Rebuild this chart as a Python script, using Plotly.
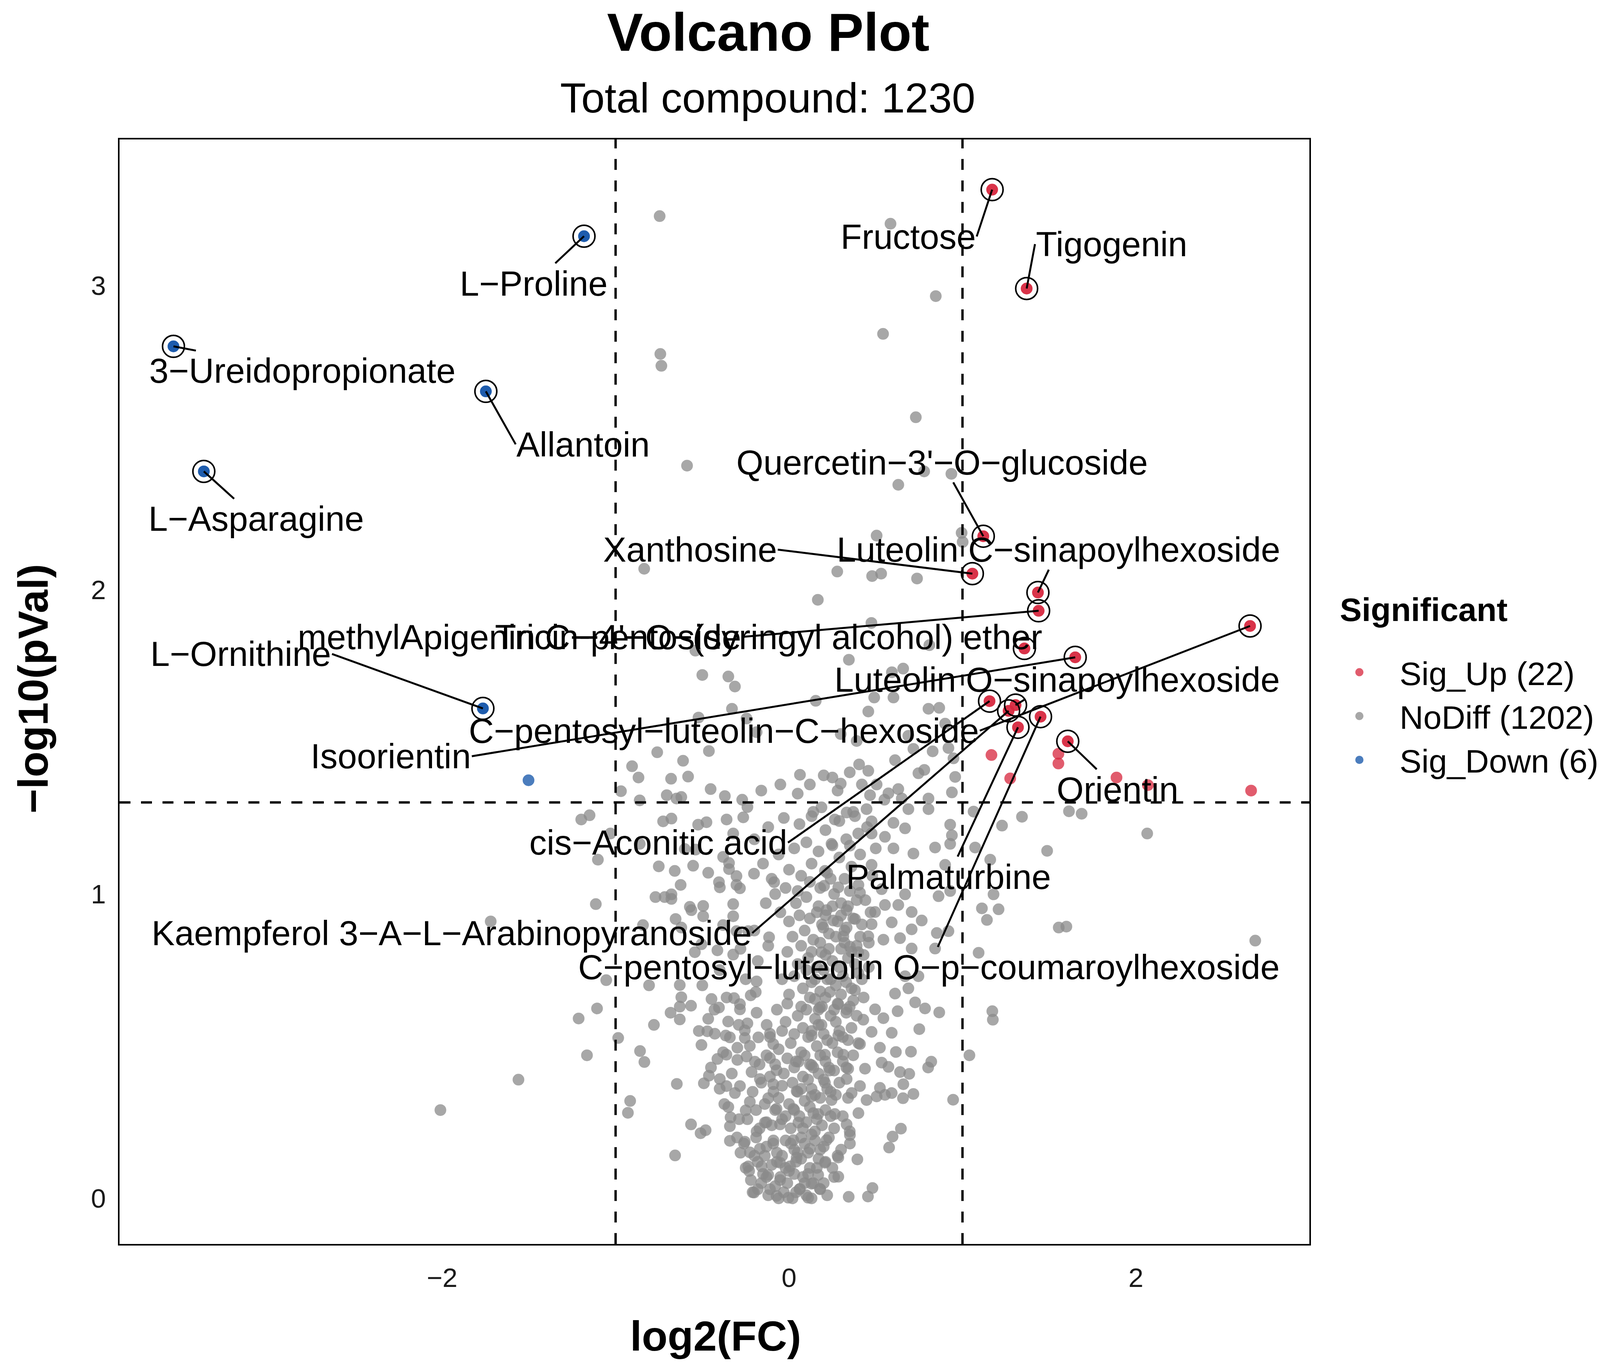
import math
import plotly.graph_objects as go

FONT = "Liberation Sans, Arial, sans-serif"

# ---------------- data (log2 fold change, -log10 p value) ----------------
up_fc = [1.171, 1.370, 1.120, 1.057, 1.435, 1.439, 1.357, 1.650, 2.658, 1.156, 1.306,
         1.266, 1.320, 1.450, 1.607, 1.167, 1.275, 1.553, 1.553, 1.888, 2.069, 2.664]
up_p = [3.315, 2.990, 2.176, 2.053, 1.991, 1.931, 1.807, 1.778, 1.881, 1.634, 1.621,
        1.602, 1.548, 1.583, 1.502, 1.457, 1.380, 1.461, 1.429, 1.383, 1.358, 1.340]
up_label = ["Fructose", "Tigogenin", "Quercetin−3'−O−glucoside", "Xanthosine",
            "Luteolin C−sinapoylhexoside", "methylApigenin C−pentoside",
            "Tricin−4'−O−(syringyl alcohol) ether", "Isoorientin",
            "C−pentosyl−luteolin−C−hexoside", "cis−Aconitic acid",
            "Luteolin O−sinapoylhexoside", "Kaempferol 3−A−L−Arabinopyranoside",
            "Palmaturbine", "C−pentosyl−luteolin O−p−coumaroylhexoside", "Orientin",
            None, None, None, None, None, None, None]

down_fc = [-1.182, -3.549, -1.748, -3.374, -1.765, -1.502]
down_p = [3.162, 2.800, 2.652, 2.389, 1.610, 1.374]
down_label = ["L−Proline", "3−Ureidopropionate", "Allantoin", "L−Asparagine", "L−Ornithine", None]

nodiff_upper = [
    (-0.746, 3.228), (0.585, 3.203), (0.846, 2.965), (0.542, 2.841), (-0.742, 2.775), (-0.736, 2.736),
    (0.731, 2.567), (-0.588, 2.408), (0.779, 2.389), (0.936, 2.381), (0.630, 2.345), (0.505, 2.178),
    (0.995, 2.187), (1.001, 2.157), (-0.835, 2.069), (0.278, 2.060), (0.479, 2.045), (0.531, 2.053),
    (0.738, 2.037), (0.166, 1.967), (0.475, 1.891), (0.809, 1.818), (0.345, 1.770), (0.658, 1.741),
    (0.593, 1.729), (-0.54, 1.80), (-0.50, 1.72), (-0.35, 1.715),
]
nodiff_midleft = [
    (-0.312, 1.682), (-0.329, 1.609), (-0.522, 1.580), (-0.245, 1.577), (-0.187, 1.532), (-0.760, 1.466),
    (-0.462, 1.470), (-0.611, 1.438), (-0.905, 1.420), (-0.868, 1.383), (-0.680, 1.379), (-0.582, 1.386),
    (0.063, 1.392), (-0.969, 1.338), (-0.452, 1.345), (-0.705, 1.325), (-0.621, 1.319), (-0.649, 1.314),
    (-0.370, 1.322), (-0.861, 1.308), (-0.240, 1.286), (-1.150, 1.259), (-1.198, 1.245), (-0.678, 1.248),
    (-0.726, 1.239), (-0.360, 1.245), (-0.264, 1.252), (-0.524, 1.228), (-0.476, 1.236), (-1.030, 1.199),
    (-0.322, 1.199), (-0.861, 1.165), (-0.601, 1.148), (-0.539, 1.146), (-0.380, 1.122), (-0.346, 1.102),
    (-1.102, 1.113), (-0.751, 1.091), (-0.553, 1.093), (-0.659, 1.076), (-0.346, 1.082), (-0.466, 1.070),
    (-0.303, 1.059), (-0.202, 1.067), (-0.086, 1.039), (-0.625, 1.030), (-0.404, 1.039), (-0.399, 1.022),
    (-0.303, 1.030), (-0.283, 1.019), (-0.770, 0.990), (-0.717, 0.990), (-0.678, 0.999), (-0.678, 0.984),
    (-1.114, 0.967), (-0.572, 0.958), (-0.563, 0.947), (-0.495, 0.961), (-0.322, 0.967), (-0.134, 0.970),
    (-0.495, 0.927), (-0.654, 0.918), (-0.322, 0.927), (-0.842, 0.898), (-0.621, 0.890), (-0.380, 0.898),
    (-0.115, 0.858), (-0.235, 0.878), (-0.303, 0.878), (-0.505, 0.835), (-0.413, 0.815), (-0.543, 0.809),
    (-0.322, 0.801),
]
nodiff_midright = [
    (0.154, 1.635), (0.491, 1.646), (0.602, 1.646), (0.457, 1.600), (0.804, 1.609), (0.866, 1.612),
    (0.900, 1.560), (0.298, 1.526), (0.390, 1.503), (0.688, 1.520), (0.717, 1.477), (0.828, 1.469),
    (0.919, 1.480), (0.948, 1.446), (0.611, 1.440), (0.404, 1.426), (0.457, 1.405), (0.250, 1.383),
    (0.298, 1.363), (0.746, 1.397), (0.780, 1.408), (0.958, 1.385), (0.505, 1.360), (0.573, 1.331),
    (0.630, 1.345), (0.467, 1.325), (0.939, 1.334), (0.804, 1.314), (0.650, 1.314), (0.688, 1.279),
    (0.447, 1.279), (0.187, 1.285), (0.130, 1.256), (0.332, 1.268), (0.264, 1.245), (0.380, 1.256),
    (0.476, 1.239), (0.602, 1.234), (0.669, 1.216), (0.804, 1.279), (1.064, 1.271), (1.343, 1.254),
    (1.228, 1.225), (0.929, 1.228), (0.939, 1.193), (0.399, 1.199), (0.476, 1.199), (0.553, 1.188),
    (0.245, 1.165), (0.351, 1.159), (0.602, 1.150), (0.717, 1.133), (0.842, 1.153), (0.929, 1.165),
    (1.073, 1.153), (1.488, 1.142), (0.476, 1.096), (1.160, 1.113), (0.900, 1.096), (0.207, 1.076),
    (0.202, 1.027), (0.284, 1.022), (0.409, 1.004), (0.534, 1.016), (0.669, 0.999), (0.862, 0.993),
    (1.179, 0.999), (0.929, 1.010), (0.553, 0.964), (0.630, 0.964), (0.216, 0.947), (0.332, 0.947),
    (0.496, 0.941), (0.707, 0.941), (1.112, 0.953), (1.208, 0.950), (0.765, 0.913), (1.141, 0.915),
    (0.255, 0.913), (0.380, 0.918), (0.197, 0.890), (0.332, 0.890), (0.476, 0.901), (0.592, 0.907),
    (0.707, 0.884), (0.919, 0.878), (1.555, 0.890), (0.852, 0.872), (0.313, 0.861), (0.457, 0.861),
    (0.544, 0.850), (0.640, 0.855), (0.842, 0.821), (1.093, 0.807), (0.187, 0.809), (0.351, 0.827),
    (0.399, 0.809), (0.707, 0.821),
]
nodiff_lowleft = [
    (-1.054, 0.717), (-0.807, 0.700), (-1.107, 0.624), (-1.213, 0.591), (-0.779, 0.570), (-0.985, 0.527),
    (-1.165, 0.470), (-0.859, 0.484), (-0.834, 0.448), (-0.647, 0.376), (-0.916, 0.320), (-0.929, 0.281),
    (-0.565, 0.243), (-0.510, 0.214), (-0.481, 0.224), (-0.657, 0.141), (-0.202, 0.019), (-0.630, 0.701),
    (-0.621, 0.661), (-0.630, 0.630), (-0.683, 0.610), (-0.630, 0.588), (-0.565, 0.633), (-0.505, 0.504),
    (-0.447, 0.655), (-0.404, 0.627), (-0.466, 0.590), (-0.351, 0.581), (-0.471, 0.549), (-0.428, 0.541),
    (-0.365, 0.535), (-0.341, 0.529), (-0.317, 0.658), (-0.283, 0.638), (-0.283, 0.621), (-0.221, 0.667),
    (-0.192, 0.678), (-0.187, 0.713), (-0.187, 0.610), (-0.240, 0.575), (-0.255, 0.552), (-0.255, 0.527),
    (-0.226, 0.501), (-0.129, 0.570), (-0.110, 0.541), (-0.091, 0.507), (-0.177, 0.529), (-0.298, 0.495),
    (-0.413, 0.458), (-0.361, 0.472), (-0.298, 0.455), (-0.110, 0.461), (-0.245, 0.466), (-0.197, 0.449),
    (-0.462, 0.403), (-0.491, 0.378), (-0.399, 0.392), (-0.361, 0.369), (-0.312, 0.346), (-0.283, 0.369),
    (-0.216, 0.415), (-0.168, 0.392), (-0.072, 0.421), (-0.091, 0.375), (0.054, 0.449), (-0.373, 0.310),
    (-0.337, 0.266), (-0.341, 0.237), (-0.288, 0.260), (-0.250, 0.289), (-0.226, 0.317), (-0.120, 0.329),
    (-0.072, 0.294), (0.044, 0.352), (0.025, 0.294), (0.054, 0.249), (-0.341, 0.189), (-0.255, 0.186),
    (-0.226, 0.151), (-0.235, 0.105), (-0.158, 0.105), (-0.187, 0.220), (-0.139, 0.249), (-0.052, 0.243),
    (-0.168, 0.163), (-0.091, 0.180), (0.025, 0.191), (-0.120, 0.077), (-0.052, 0.060), (0.006, 0.105),
    (-0.072, 0.008), (-0.004, 0.002), (0.063, 0.031), (0.044, 0.134), (-0.052, 0.117),
]
nodiff_lowright = [
    (0.866, 0.611), (0.751, 0.556), (1.172, 0.615), (1.175, 0.587), (1.040, 0.470), (0.820, 0.449),
    (0.802, 0.430), (0.703, 0.482), (0.946, 0.324), (0.645, 0.229), (0.597, 0.203), (0.577, 0.167),
    (0.394, 0.128), (0.284, 0.071), (0.481, 0.034), (0.455, 0.006), (0.344, 0.005), (0.178, 0.031),
    (0.717, 0.343), (0.657, 0.329), (0.659, 0.375), (0.693, 0.409), (0.640, 0.415), (0.616, 0.481),
    (0.573, 0.432), (0.534, 0.446), (0.592, 0.544), (0.544, 0.592), (0.626, 0.615), (0.688, 0.690),
    (0.784, 0.624), (0.727, 0.644), (0.669, 0.730), (0.746, 0.730), (0.611, 0.673), (0.496, 0.621),
    (0.476, 0.547), (0.428, 0.587), (0.332, 0.621), (0.235, 0.678), (0.149, 0.655), (0.284, 0.638),
    (0.380, 0.684), (0.178, 0.627), (0.130, 0.535), (0.187, 0.570), (0.284, 0.535), (0.409, 0.507),
    (0.524, 0.495), (0.313, 0.472), (0.207, 0.472), (0.130, 0.438), (0.235, 0.420), (0.341, 0.426),
    (0.438, 0.426), (0.524, 0.363), (0.409, 0.369), (0.332, 0.392), (0.207, 0.380), (0.130, 0.335),
    (0.245, 0.323), (0.361, 0.346), (0.447, 0.323), (0.505, 0.335), (0.264, 0.277), (0.168, 0.277),
    (0.332, 0.243), (0.351, 0.208), (0.351, 0.180), (0.216, 0.191), (0.149, 0.220), (0.120, 0.163),
    (0.284, 0.134), (0.207, 0.117), (0.168, 0.077), (0.130, 0.048), (0.110, 0.002), (0.592, 0.346),
    (0.553, 0.340),
]
nodiff_core = [
    (-0.18, 0.03), (-0.12, 0.01), (-0.08, 0.04), (-0.03, 0.02), (0.02, 0.00), (0.06, 0.03), (0.10, 0.01),
    (0.14, 0.05), (-0.15, 0.08), (-0.10, 0.11), (-0.05, 0.07), (0.00, 0.09), (0.04, 0.12), (0.08, 0.07),
    (0.12, 0.10), (0.17, 0.13), (-0.20, 0.14), (-0.13, 0.17), (-0.07, 0.15), (-0.02, 0.19), (0.03, 0.16),
    (0.07, 0.20), (0.11, 0.15), (0.15, 0.19), (0.20, 0.17), (-0.17, 0.23), (-0.10, 0.24), (-0.04, 0.26),
    (0.01, 0.23), (0.06, 0.27), (0.10, 0.25), (0.14, 0.28), (0.19, 0.24), (0.24, 0.27), (-0.14, 0.31),
    (-0.06, 0.33), (0.00, 0.31), (0.05, 0.35), (0.09, 0.32), (0.13, 0.36), (0.18, 0.33), (0.22, 0.36),
    (0.27, 0.34), (-0.11, 0.40), (-0.03, 0.41), (0.03, 0.43), (0.08, 0.40), (0.12, 0.44), (0.17, 0.41),
    (0.21, 0.45), (0.26, 0.42), (0.31, 0.45), (-0.06, 0.49), (0.01, 0.51), (0.07, 0.48), (0.11, 0.53),
    (0.16, 0.50), (0.20, 0.54), (0.25, 0.51), (0.29, 0.55), (0.34, 0.52), (-0.02, 0.58), (0.05, 0.60),
    (0.10, 0.62), (0.15, 0.59), (0.19, 0.63), (0.24, 0.60), (0.28, 0.64), (0.33, 0.61), (0.37, 0.65),
    (0.00, 0.67), (0.08, 0.69), (0.13, 0.71), (0.18, 0.68), (0.22, 0.72), (0.27, 0.70), (0.31, 0.73),
    (0.36, 0.69), (0.40, 0.74), (0.05, 0.77), (0.11, 0.79), (0.16, 0.76), (0.21, 0.80), (0.25, 0.78),
    (0.30, 0.82), (0.34, 0.79), (0.39, 0.83), (0.43, 0.80), (0.02, 0.86), (0.09, 0.88), (0.14, 0.85),
    (0.19, 0.90), (0.23, 0.87), (0.28, 0.91), (0.32, 0.88), (0.37, 0.92), (0.42, 0.90), (-0.05, 0.94),
    (0.04, 0.97), (0.10, 0.99), (0.17, 0.96), (0.26, 1.00), (0.30, 0.97), (0.35, 1.01), (0.44, 0.98),
    (-0.10, 1.05), (0.00, 1.08), (0.07, 1.06), (0.13, 1.10), (0.22, 1.07), (0.29, 1.12), (0.36, 1.09),
    (-0.22, 0.06), (-0.25, 0.10), (-0.28, 0.15), (-0.30, 0.20), (0.20, 0.05), (0.25, 0.10), (0.30, 0.16),
    (0.35, 0.22), (0.40, 0.28),
]
nodiff_dense = [
    (-0.21, 0.02), (-0.16, 0.05), (-0.11, 0.03), (-0.06, 0.00), (-0.01, 0.05), (0.04, 0.02), (0.09, 0.05),
    (0.13, 0.00), (0.18, 0.03), (0.22, 0.01), (-0.23, 0.09), (-0.18, 0.12), (-0.13, 0.07), (-0.07, 0.12),
    (-0.02, 0.10), (0.03, 0.08), (0.07, 0.13), (0.11, 0.08), (0.16, 0.10), (0.21, 0.12), (0.26, 0.07),
    (-0.26, 0.18), (-0.19, 0.20), (-0.14, 0.14), (-0.09, 0.19), (-0.04, 0.14), (0.01, 0.18), (0.05, 0.15),
    (0.09, 0.18), (0.13, 0.21), (0.18, 0.16), (0.23, 0.20), (0.28, 0.14), (-0.24, 0.26), (-0.19, 0.29),
    (-0.13, 0.25), (-0.08, 0.29), (-0.02, 0.27), (0.03, 0.29), (0.08, 0.23), (0.12, 0.30), (0.16, 0.26),
    (0.21, 0.29), (0.26, 0.23), (0.31, 0.27), (-0.21, 0.35), (-0.16, 0.38), (-0.09, 0.35), (-0.04, 0.37),
    (0.02, 0.38), (0.07, 0.36), (0.11, 0.39), (0.15, 0.34), (0.20, 0.39), (0.24, 0.35), (0.29, 0.38),
    (0.34, 0.33), (-0.17, 0.44), (-0.13, 0.47), (-0.08, 0.44), (-0.01, 0.46), (0.04, 0.45), (0.09, 0.47),
    (0.14, 0.43), (0.18, 0.47), (0.23, 0.43), (0.28, 0.48), (0.33, 0.43), (0.37, 0.47), (-0.11, 0.53),
    (-0.04, 0.55), (0.03, 0.54), (0.08, 0.56), (0.13, 0.55), (0.17, 0.57), (0.22, 0.52), (0.27, 0.58),
    (0.31, 0.53), (0.36, 0.56), (0.40, 0.51), (-0.07, 0.62), (-0.01, 0.64), (0.07, 0.63), (0.12, 0.66),
    (0.17, 0.62), (0.21, 0.66), (0.26, 0.62), (0.30, 0.67), (0.35, 0.63), (0.39, 0.60), (0.43, 0.66),
    (-0.04, 0.72), (0.03, 0.73), (0.10, 0.75), (0.15, 0.72), (0.20, 0.75), (0.24, 0.72), (0.29, 0.76),
    (0.33, 0.71), (0.38, 0.77), (0.42, 0.72), (0.46, 0.76), (-0.01, 0.81), (0.07, 0.83), (0.13, 0.81),
    (0.18, 0.84), (0.23, 0.82), (0.27, 0.86), (0.32, 0.84), (0.36, 0.81), (0.41, 0.86), (0.46, 0.84),
    (0.00, 0.91), (0.06, 0.93), (0.12, 0.92), (0.16, 0.94), (0.21, 0.93), (0.25, 0.96), (0.30, 0.93),
    (0.34, 0.96), (0.39, 0.98), (0.47, 0.94), (-0.08, 1.00), (-0.02, 1.02), (0.05, 1.01), (0.12, 1.04),
    (0.18, 1.02), (0.24, 1.05), (0.32, 1.05), (0.40, 1.03), (0.48, 1.06), (-0.15, 1.10), (-0.06, 1.13),
    (0.03, 1.15), (0.10, 1.17), (0.17, 1.14), (0.25, 1.16), (0.33, 1.18), (0.41, 1.13), (0.50, 1.15),
    (-0.20, 1.18), (-0.12, 1.22), (-0.03, 1.25), (0.06, 1.23), (0.14, 1.27), (0.21, 1.21), (0.29, 1.24),
    (0.37, 1.27), (0.45, 1.22), (-0.27, 1.31), (-0.16, 1.34), (-0.05, 1.36), (0.05, 1.33), (0.12, 1.36),
    (0.20, 1.39), (0.28, 1.34), (0.35, 1.40), (0.42, 1.36), (0.55, 1.31), (-0.35, 0.30), (-0.40, 0.36),
    (-0.45, 0.43), (-0.38, 0.48), (-0.52, 0.55), (-0.33, 0.41), (-0.29, 0.57), (-0.43, 0.62), (-0.36, 0.66),
    (-0.25, 0.72), (-0.18, 0.78), (-0.12, 0.83), (-0.20, 0.88), (-0.28, 0.82), (-0.40, 0.75), (-0.50, 0.70),
]
nodiff_outer = [
    (-1.72, 0.91), (-2.01, 0.29), (-1.56, 0.39), (1.614, 1.272), (1.687, 1.264), (2.065, 1.199),
    (2.688, 0.847), (1.599, 0.893),
]

nodiff_points = (nodiff_upper + nodiff_midleft + nodiff_midright + nodiff_lowleft
                 + nodiff_lowright + nodiff_core + nodiff_dense + nodiff_outer)
nodiff_fc = [p[0] for p in nodiff_points]
nodiff_p = [p[1] for p in nodiff_points]

FC_CUT = 1.0
P_CUT = 0.05

# ---------------- layout-only settings ----------------
# label text anchor position (axis units) and which side of the text box that position is
LABEL_POS = {
    "Fructose": (1.082, 3.161, "right"),
    "Tigogenin": (1.418, 3.136, "left"),
    "L−Proline": (-1.471, 3.007, "center"),
    "3−Ureidopropionate": (-2.806, 2.720, "center"),
    "Allantoin": (-1.576, 2.478, "left"),
    "L−Asparagine": (-3.071, 2.233, "center"),
    "Quercetin−3'−O−glucoside": (0.882, 2.419, "center"),
    "Xanthosine": (-0.065, 2.132, "right"),
    "Luteolin C−sinapoylhexoside": (1.553, 2.132, "center"),
    "methylApigenin C−pentoside": (-0.271, 1.845, "right"),
    "Tricin−4'−O−(syringyl alcohol) ether": (-0.118, 1.845, "center"),
    "L−Ornithine": (-2.635, 1.789, "right"),
    "Luteolin O−sinapoylhexoside": (1.547, 1.705, "center"),
    "C−pentosyl−luteolin−C−hexoside": (1.100, 1.537, "right"),
    "Isoorientin": (-1.829, 1.453, "right"),
    "Orientin": (1.894, 1.344, "center"),
    "cis−Aconitic acid": (-0.006, 1.169, "right"),
    "Palmaturbine": (0.918, 1.057, "center"),
    "Kaempferol 3−A−L−Arabinopyranoside": (-0.212, 0.872, "right"),
    "C−pentosyl−luteolin O−p−coumaroylhexoside": (0.806, 0.760, "center"),
}
NO_SEGMENT = {"Tricin−4'−O−(syringyl alcohol) ether"}

W, H = 4096, 3500
ML, MR, MT, MB = 306, 744, 357, 315
PW, PH = W - ML - MR, H - MT - MB

RED = "#D7263D"
GREY = "#8A8A8A"
BLUE = "#0F52A8"
ALPHA = 0.75
PT = 25
PT_LINE = 5
LAB_FS = 89

fig = go.Figure()


def pts(x, y, color, name, show, rank=None):
    return go.Scatter(
        x=x, y=y, mode="markers", name=name, showlegend=show,
        legendrank=rank if rank is not None else 1000,
        hoverinfo="skip",
        marker=dict(size=PT, color=color, opacity=ALPHA, symbol="circle",
                    line=dict(width=PT_LINE, color=color)),
    )


fig.add_trace(pts(nodiff_fc, nodiff_p, GREY, "NoDiff (1202)", True, 2))
fig.add_trace(pts(up_fc, up_p, RED, "Sig_Up (22)", True, 1))
fig.add_trace(pts(down_fc, down_p, BLUE, "Sig_Down (6)", True, 3))

lab_up = [i for i, n in enumerate(up_label) if n]
lab_dn = [i for i, n in enumerate(down_label) if n]
fig.add_trace(pts([up_fc[i] for i in lab_up], [up_p[i] for i in lab_up], RED, "", False))
fig.add_trace(pts([down_fc[i] for i in lab_dn], [down_p[i] for i in lab_dn], BLUE, "", False))
ring_x = [up_fc[i] for i in lab_up] + [down_fc[i] for i in lab_dn]
ring_y = [up_p[i] for i in lab_up] + [down_p[i] for i in lab_dn]
fig.add_trace(go.Scatter(
    x=ring_x, y=ring_y, mode="markers", showlegend=False, hoverinfo="skip",
    marker=dict(symbol="circle-open", size=56, color="black", line=dict(width=4, color="black")),
))

annotations = []
labelled = [(up_fc[i], up_p[i], up_label[i]) for i in lab_up] + \
           [(down_fc[i], down_p[i], down_label[i]) for i in lab_dn]
for fx, py, name in labelled:
    tx, ty, anchor = LABEL_POS[name]
    if name in NO_SEGMENT:
        annotations.append(dict(x=tx, y=ty, xref="x", yref="y", text=name, showarrow=False,
                                xanchor=anchor, yanchor="middle",
                                font=dict(size=LAB_FS, family=FONT, color="black")))
    else:
        annotations.append(dict(x=fx, y=py, xref="x", yref="y", ax=tx, ay=ty, axref="x", ayref="y",
                                text=name, showarrow=True, arrowhead=0, arrowwidth=5,
                                xanchor=anchor, yanchor="middle",
                                arrowcolor="black", standoff=0, startstandoff=0,
                                font=dict(size=LAB_FS, family=FONT, color="black")))

annotations += [
    dict(text="Volcano Plot", x=0.5453, y=1.0972, xref="paper", yref="paper", showarrow=False,
         xanchor="center", yanchor="middle", font=dict(size=138, family=FONT, color="black", weight="bold")),
    dict(text="Total compound: 1230", x=0.5447, y=1.0375, xref="paper", yref="paper", showarrow=False,
         xanchor="center", yanchor="middle", font=dict(size=108, family=FONT, color="black")),
    dict(text="log2(FC)", x=0.501, y=-0.0831, xref="paper", yref="paper", showarrow=False,
         xanchor="center", yanchor="middle", font=dict(size=108, family=FONT, color="black", weight="bold")),
    dict(text="−log10(pVal)", x=-0.0725, y=0.5025, xref="paper", yref="paper", showarrow=False,
         textangle=-90, xanchor="center", yanchor="middle",
         font=dict(size=108, family=FONT, color="black", weight="bold")),
    dict(text="Significant", x=(3428 - ML) / PW, y=(H - MB - 1561) / PH, xref="paper", yref="paper",
         showarrow=False, xanchor="left", yanchor="middle",
         font=dict(size=84, family=FONT, color="black", weight="bold")),
]

DASH = "28px,27px"
shapes = [
    dict(type="line", xref="x", yref="paper", x0=-FC_CUT, x1=-FC_CUT, y0=0, y1=1, layer="above",
         line=dict(color="black", width=6, dash=DASH)),
    dict(type="line", xref="x", yref="paper", x0=FC_CUT, x1=FC_CUT, y0=0, y1=1, layer="above",
         line=dict(color="black", width=6, dash=DASH)),
    dict(type="line", xref="paper", yref="y", x0=0, x1=1, y0=-math.log10(P_CUT), y1=-math.log10(P_CUT),
         layer="above", line=dict(color="black", width=6, dash=DASH)),
]

axis_common = dict(showgrid=False, zeroline=False, showline=True, mirror=True, linecolor="black",
                   linewidth=4, ticks="", tickfont=dict(size=69, family=FONT, color="#1a1a1a"))

fig.update_layout(
    width=W, height=H,
    margin=dict(l=ML, r=MR, t=MT, b=MB, autoexpand=False),
    plot_bgcolor="white", paper_bgcolor="white",
    font=dict(family=FONT, color="black"),
    xaxis=dict(range=[-3.86, 3.0], tickvals=[-2, 0, 2], ticktext=["−2", "0", "2"],
               ticklabelstandoff=23, **axis_common),
    yaxis=dict(range=[-0.15, 3.48], tickvals=[0, 1, 2, 3], ticktext=["0", "1", "2", "3"],
               ticklabelstandoff=17, **axis_common),
    legend=dict(x=(3377 - ML) / PW, xanchor="left", y=(H - MB - 1660) / PH, yanchor="top", itemwidth=196,
                bgcolor="rgba(0,0,0,0)", traceorder="normal",
                font=dict(size=84, family=FONT, color="black")),
    annotations=annotations,
    shapes=shapes,
)

fig.write_html("out.html", config={"displayModeBar": False},
               post_script="document.body.style.margin='0';")
